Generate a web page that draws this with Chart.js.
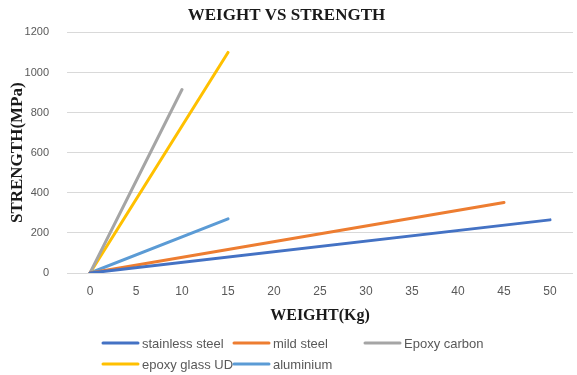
<!DOCTYPE html>
<html><head><meta charset="utf-8">
<script src="https://cdn.jsdelivr.net/npm/chart.js@4/dist/chart.umd.min.js"></script>
<style>html,body{margin:0;padding:0;background:#fff;}canvas{display:block}</style>
</head><body>
<canvas id="c" width="577" height="375"></canvas>
<script>
// ---- data ----
const seriesNames = ['stainless steel', 'mild steel', 'Epoxy carbon', 'epoxy glass UD', 'aluminium'];
const stainlessSteelWeight = [0, 50];
const stainlessSteelStrength = [0, 265];
const mildSteelWeight = [0, 45];
const mildSteelStrength = [0, 352];
const epoxyCarbonWeight = [0, 10];
const epoxyCarbonStrength = [0, 915];
const epoxyGlassWeight = [0, 15];
const epoxyGlassStrength = [0, 1100];
const aluminiumWeight = [0, 15];
const aluminiumStrength = [0, 270];
const xTickValues = [0, 5, 10, 15, 20, 25, 30, 35, 40, 45, 50];
const yTickValues = [0, 200, 400, 600, 800, 1000, 1200];
const seriesColors = ['#4472C4', '#ED7D31', '#A5A5A5', '#FFC000', '#5B9BD5'];

function pts(xs, ys) { return xs.map((x, i) => ({ x: x, y: ys[i] })); }
const seriesData = [
  pts(stainlessSteelWeight, stainlessSteelStrength),
  pts(mildSteelWeight, mildSteelStrength),
  pts(epoxyCarbonWeight, epoxyCarbonStrength),
  pts(epoxyGlassWeight, epoxyGlassStrength),
  pts(aluminiumWeight, aluminiumStrength)
];

const legendPlugin = {
  id: 'gridLegend',
  afterDraw(chart) {
    const ctx = chart.ctx;
    const cols = [103, 234, 365];
    const rows = [chart.height - 32, chart.height - 11];
    ctx.save();
    ctx.font = '13px "Liberation Sans", Arial, sans-serif';
    ctx.fillStyle = '#595959';
    ctx.textBaseline = 'middle';
    chart.data.datasets.forEach((ds, i) => {
      const x = cols[i % 3], y = rows[Math.floor(i / 3)];
      ctx.strokeStyle = ds.borderColor;
      ctx.lineWidth = 3;
      ctx.lineCap = 'round';
      ctx.beginPath(); ctx.moveTo(x, y); ctx.lineTo(x + 35, y); ctx.stroke();
      ctx.fillText(ds.label, x + 39, y + 1);
    });
    ctx.restore();
  }
};

new Chart(document.getElementById('c'), {
  type: 'line',
  data: {
    datasets: seriesNames.map((n, i) => ({
      label: n,
      data: seriesData[i],
      borderColor: seriesColors[i],
      backgroundColor: seriesColors[i],
      borderWidth: 3,
      borderCapStyle: 'round',
      pointRadius: 0,
      tension: 0,
      fill: false
    }))
  },
  options: {
    responsive: false,
    devicePixelRatio: 1,
    animation: false,
    layout: { padding: { left: 0, right: 4, top: 0, bottom: 47 } },
    plugins: {
      legend: { display: false },
      tooltip: { enabled: false },
      title: {
        display: true,
        text: 'WEIGHT VS STRENGTH',
        color: '#1a1a1a',
        font: { family: '"Liberation Serif", "Times New Roman", serif', size: 17, weight: 'bold' },
        padding: { top: 5, bottom: 7 }
      }
    },
    scales: {
      x: {
        type: 'linear',
        min: -2.5,
        max: 52.5,
        afterBuildTicks: s => { s.ticks = xTickValues.map(v => ({ value: v })); },
        afterFit: s => { s.height = 55; },
        grid: { display: false, drawTicks: false },
        border: { display: false },
        ticks: { color: '#595959', padding: 11, maxRotation: 0, autoSkip: false,
                 callback: v => String(v),
                 font: { family: '"Liberation Sans", Arial, sans-serif', size: 12 } },
        title: { display: true, text: 'WEIGHT(Kg)', color: '#1a1a1a',
                 font: { family: '"Liberation Serif", "Times New Roman", serif', size: 16, weight: 'bold' },
                 padding: { top: 0, bottom: 3 } }
      },
      y: {
        min: 0,
        max: 1200,
        afterBuildTicks: s => { s.ticks = yTickValues.map(v => ({ value: v })); },
        afterFit: s => { s.width = 67; },
        grid: { color: '#d9d9d9', lineWidth: 1, drawTicks: false },
        border: { display: false },
        ticks: { color: '#595959', padding: 18,
                 callback: v => String(v),
                 font: { family: '"Liberation Sans", Arial, sans-serif', size: 11 } },
        title: { display: true, text: 'STRENGTH(MPa)', color: '#1a1a1a',
                 font: { family: '"Liberation Serif", "Times New Roman", serif', size: 17, weight: 'bold' },
                 padding: { top: 7, bottom: 0 } }
      }
    }
  },
  plugins: [legendPlugin]
});
</script>
</body></html>
